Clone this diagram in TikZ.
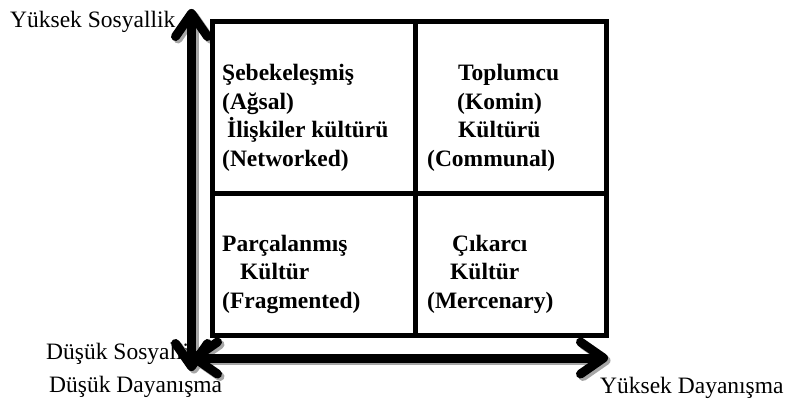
\documentclass[tikz,border=0pt]{standalone}
\usepackage{fontspec}
\setmainfont{Liberation Serif}
\usetikzlibrary{arrows.meta}

\begin{document}
\begin{tikzpicture}[x=1pt,y=-1pt,
  every node/.style={inner sep=0pt,anchor=base west,font=\fontsize{23.5}{28.5}\selectfont},
  cell/.style={align=left,font=\bfseries\fontsize{23.5}{28.5}\selectfont},
  axarrow/.style={line width=9pt,{Straight Barb[round,length=23pt,width=32pt]}-{Straight Barb[round,length=23pt,width=32pt]}},
  axshadow/.style={axarrow,draw=black!35}]
\useasboundingbox (0,0) rectangle (787,401);
% axis labels
\node (ysos) at (10,28) {Yüksek Sosyallik};
\node (dsos) at (46,359) {Düşük Sosyallik};
\node (dday) at (49,392) {Düşük Dayanışma};
\node (yday) at (600,393) {Yüksek Dayanışma};
% axes
\coordinate (ytop) at (191.5,9);
\coordinate (ybot) at (191.5,371);
\coordinate (xleft) at (190,358);
\coordinate (xright) at (608,358);
\draw [axshadow] ([shift={(2.5,2.5)}]ytop) to ([shift={(2.5,2.5)}]ybot);
\draw [axshadow] ([shift={(2.5,2.5)}]xleft) to ([shift={(2.5,2.5)}]xright);
\draw [axarrow] (ytop) to (ybot);
\draw [axarrow] (xleft) to (xright);
% grid
\draw [line width=5pt] (212,22) rectangle (606,335);
\draw [line width=5pt] (415.5,22) to (415.5,335);
\draw [line width=5pt] (212,193.5) to (606,193.5);
% cells (anchored at the last line)
\node [cell] (net) at (222,166.5) {Şebekeleşmiş\\(Ağsal)\\\hspace*{5pt}İlişkiler kültürü\\(Networked)};
\node [cell] (com) at (427,166.5) {\hspace*{31pt}Toplumcu\\\hspace*{30pt}(Komin)\\\hspace*{31pt}Kültürü\\(Communal)};
\node [cell] (fra) at (222,308) {Parçalanmış\\\hspace*{18pt}Kültür\\(Fragmented)};
\node [cell] (mer) at (427,308) {\hspace*{25pt}Çıkarcı\\\hspace*{23pt}Kültür\\(Mercenary)};
\end{tikzpicture}
\end{document}
